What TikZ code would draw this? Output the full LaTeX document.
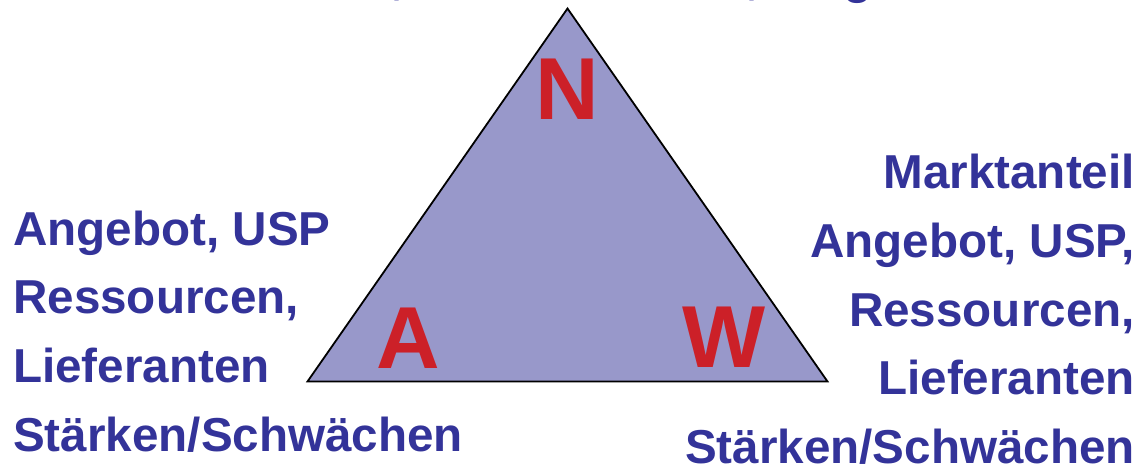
\documentclass[tikz,border=0pt]{standalone}
\usepackage{fontspec}
\setmainfont{Liberation Sans}
\definecolor{txtblue}{RGB}{51,51,153}
\definecolor{trifill}{RGB}{152,152,202}
\definecolor{letred}{RGB}{204,32,40}
\tikzset{
  bluetxt/.style={inner sep=0pt, text=txtblue, font=\fontsize{47.6}{55}\selectfont\bfseries},
  redletter/.style={inner sep=0pt, text=letred, font=\fontsize{88}{100}\selectfont\bfseries, anchor=base},
  tri/.style={fill=trifill, draw=black, line width=1.8pt, line join=miter}
}
\begin{document}
\begin{tikzpicture}[x=1pt,y=-1pt]
\useasboundingbox (0,0) rectangle (1146,466);
% triangle
\coordinate (top) at (567.5,8.5);
\coordinate (bl) at (307.5,381.5);
\coordinate (br) at (827.5,381.5);
\draw[tri] (top) -- (br) -- (bl) -- cycle;
% letters
\node[redletter] (N) at (567.5,119) {N};
\node[redletter] (A) at (408,368) {A};
\node[redletter] (W) at (724,367) {W};
% cut-off line at the top
\node[bluetxt, anchor=base] (c1) at (398,-6.5) {,};
\node[bluetxt, anchor=base] (c2) at (753,-6.5) {,};
\node[bluetxt, anchor=base] (g1) at (858,-7) {g};
% left text
\node[bluetxt, anchor=base west] (l1) at (13,245) {Angebot, USP};
\node[bluetxt, anchor=base west] (l2) at (13,313) {Ressourcen,};
\node[bluetxt, anchor=base west] (l3) at (13,382) {Lieferanten};
\node[bluetxt, anchor=base west] (l4) at (13,451) {Stärken/Schwächen};
% right text
\node[bluetxt, anchor=base east] (r1) at (1135,188) {Marktanteil};
\node[bluetxt, anchor=base east] (r2) at (1135,257) {Angebot, USP,};
\node[bluetxt, anchor=base east] (r3) at (1135,326) {Ressourcen,};
\node[bluetxt, anchor=base east] (r4) at (1135,394) {Lieferanten};
\node[bluetxt, anchor=base east] (r5) at (1135,463) {Stärken/Schwächen};
\end{tikzpicture}
\end{document}
